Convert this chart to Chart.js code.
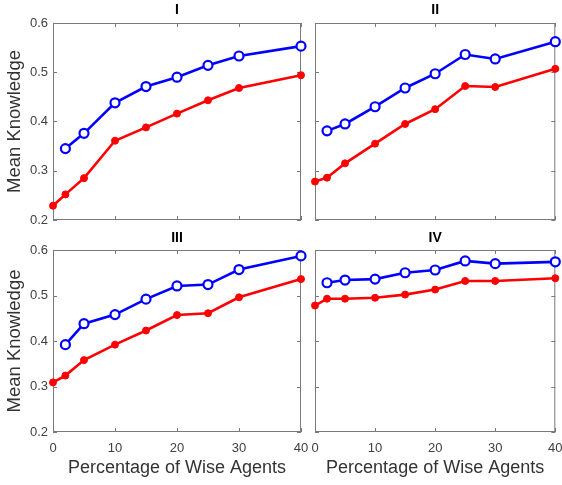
<!DOCTYPE html>
<html>
<head>
<meta charset="utf-8">
<script src="https://cdn.jsdelivr.net/npm/chart.js@4"></script>
<style>
  body { margin: 0; background: #fff; }
  #wrap { position: relative; width: 562px; height: 485px; overflow: hidden; }
  canvas { position: absolute; }
</style>
</head>
<body>
<div id="wrap">
  <canvas id="p1"></canvas>
  <canvas id="p2"></canvas>
  <canvas id="p3"></canvas>
  <canvas id="p4"></canvas>
</div>
<script>
// x positions (percentage of wise agents)
const redX = [0, 2, 5, 10, 15, 20, 25, 30, 40];
const blueX = [2, 5, 10, 15, 20, 25, 30, 40];

// panel I
const blueI = [0.345, 0.376, 0.438, 0.471, 0.490, 0.514, 0.533, 0.553];
const redI = [0.229, 0.252, 0.285, 0.361, 0.388, 0.416, 0.443, 0.468, 0.494];
// panel II
const blueII = [0.381, 0.395, 0.430, 0.468, 0.497, 0.536, 0.527, 0.562];
const redII = [0.278, 0.286, 0.315, 0.355, 0.395, 0.425, 0.472, 0.470, 0.507];
// panel III
const blueIII = [0.392, 0.438, 0.458, 0.492, 0.521, 0.524, 0.557, 0.587];
const redIII = [0.309, 0.324, 0.358, 0.392, 0.423, 0.457, 0.461, 0.496, 0.536];
// panel IV
const blueIV = [0.528, 0.534, 0.536, 0.550, 0.556, 0.576, 0.570, 0.574];
const redIV = [0.478, 0.493, 0.493, 0.495, 0.502, 0.513, 0.532, 0.532, 0.538];

const xTicks = [0, 10, 20, 30, 40];
const yTicks = [0.2, 0.3, 0.4, 0.5, 0.6];

const FONT = "'Liberation Sans', Arial, sans-serif";
const BOX = '#7a7a7a';

// matlab-ish box with inward ticks
const boxPlugin = {
  id: 'box',
  beforeDatasetsDraw(chart) {
    const { ctx, chartArea: a, scales: { x, y } } = chart;
    ctx.save();
    ctx.strokeStyle = BOX;
    ctx.lineWidth = 1;
    ctx.strokeRect(a.left + 0.5, a.top + 0.5, a.right - a.left - 1, a.bottom - a.top - 1);
    ctx.beginPath();
    xTicks.forEach(v => {
      const px = Math.round(x.getPixelForValue(v)) + 0.5;
      ctx.moveTo(px, a.bottom); ctx.lineTo(px, a.bottom - 4);
      ctx.moveTo(px, a.top); ctx.lineTo(px, a.top + 4);
    });
    yTicks.forEach(v => {
      const py = Math.round(y.getPixelForValue(v)) + 0.5;
      ctx.moveTo(a.left, py); ctx.lineTo(a.left + 4, py);
      ctx.moveTo(a.right, py); ctx.lineTo(a.right - 4, py);
    });
    ctx.stroke();
    ctx.restore();
  }
};

function makePanel(id, title, blue, red, o) {
  const cv = document.getElementById(id);
  cv.width = o.w; cv.height = o.h;
  cv.style.left = o.left + 'px'; cv.style.top = o.top + 'px';
  cv.style.width = o.w + 'px'; cv.style.height = o.h + 'px';

  new Chart(cv.getContext('2d'), {
    type: 'line',
    data: {
      datasets: [
        {
          data: blue.map((v, i) => ({ x: blueX[i], y: v })),
          borderColor: '#0000ff',
          borderWidth: 2.6,
          pointRadius: 4.5,
          pointBorderWidth: 2.2,
          pointBackgroundColor: '#ffffff',
          pointBorderColor: '#0000ff',
          clip: false
        },
        {
          data: red.map((v, i) => ({ x: redX[i], y: v })),
          borderColor: '#ff0000',
          borderWidth: 2.6,
          pointRadius: 3.5,
          pointBorderWidth: 1,
          pointBackgroundColor: '#ff0000',
          pointBorderColor: '#ff0000',
          clip: false
        }
      ]
    },
    options: {
      responsive: false,
      animation: false,
      layout: { padding: { top: 0, left: 0, right: o.padRight, bottom: o.padBottom } },
      plugins: {
        legend: { display: false },
        tooltip: { enabled: false },
        title: {
          display: true, text: title, color: '#000', fullSize: false,
          font: { family: FONT, size: 14, weight: 'bold' },
          padding: o.titlePad
        }
      },
      scales: {
        x: {
          type: 'linear', min: 0, max: 40,
          grid: { display: false, drawTicks: false },
          border: { display: false },
          ticks: {
            display: o.xLabels, stepSize: 10, autoSkip: false, maxRotation: 0,
            padding: 9, color: '#404040', font: { family: FONT, size: 13 }
          },
          title: {
            display: o.xLabels, text: 'Percentage of Wise Agents', color: '#333',
            font: { family: FONT, size: 18 }, padding: { top: 0, bottom: 6 }
          },
          afterFit: s => { s.height = o.xHeight; s.paddingLeft = 0; s.paddingRight = 0; }
        },
        y: {
          min: 0.2, max: 0.6,
          grid: { display: false, drawTicks: false },
          border: { display: false },
          ticks: {
            display: o.yLabels, stepSize: 0.1, padding: 5, color: '#404040',
            font: { family: FONT, size: 13 },
            callback: v => v.toFixed(1)
          },
          title: {
            display: o.yLabels, text: 'Mean Knowledge', color: '#333',
            font: { family: FONT, size: 18.5 }, padding: { top: 4, bottom: 0 }
          },
          afterFit: s => { s.width = o.yWidth; s.paddingTop = 0; s.paddingBottom = 0; }
        }
      }
    },
    plugins: [boxPlugin]
  });
}

makePanel('p1', 'I', blueI, redI, {
  left: 0, top: 0, w: 310, h: 232, yWidth: 53, xHeight: 0, padRight: 9, padBottom: 12,
  xLabels: false, yLabels: true, titlePad: { top: 2, bottom: 4.2 }
});
makePanel('p2', 'II', blueII, redII, {
  left: 290, top: 0, w: 272, h: 232, yWidth: 25, xHeight: 0, padRight: 6, padBottom: 12,
  xLabels: false, yLabels: false, titlePad: { top: 2, bottom: 4.2 }
});
makePanel('p3', 'III', blueIII, redIII, {
  left: 0, top: 226, w: 310, h: 259, yWidth: 53, xHeight: 53, padRight: 9, padBottom: 0,
  xLabels: true, yLabels: true, titlePad: { top: 3.5, bottom: 3.7 }
});
makePanel('p4', 'IV', blueIV, redIV, {
  left: 290, top: 226, w: 272, h: 259, yWidth: 25, xHeight: 53, padRight: 6, padBottom: 0,
  xLabels: true, yLabels: false, titlePad: { top: 3.5, bottom: 3.7 }
});
</script>
</body>
</html>
